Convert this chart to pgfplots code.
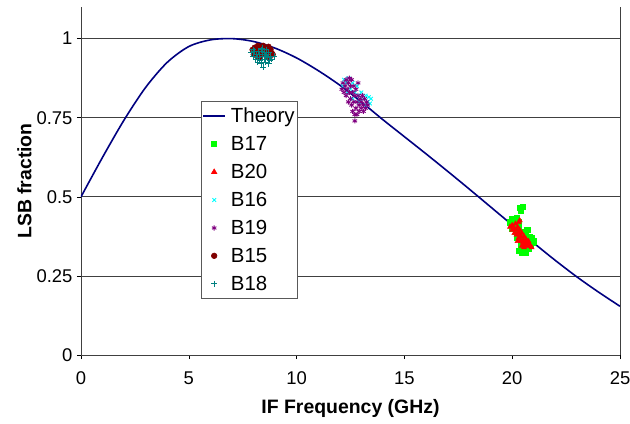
\documentclass[border=0pt]{standalone}
\usepackage{pgfplots}
\pgfplotsset{compat=1.18}
\usepackage{fontspec}
\setmainfont{Liberation Sans}
\usetikzlibrary{plotmarks}
\definecolor{navyc}{RGB}{0,0,128}
\definecolor{limec}{RGB}{0,255,0}
\definecolor{redc}{RGB}{255,0,0}
\definecolor{cyanc}{RGB}{0,255,255}
\definecolor{purplec}{RGB}{128,0,128}
\definecolor{maroonc}{RGB}{128,0,0}
\definecolor{tealc}{RGB}{0,128,128}
\pgfplotsset{
  markleg/.style={legend image code/.code={\draw[mark repeat=2,mark phase=2,##1] plot coordinates {(0bp,0bp) (11bp,0bp) (22bp,0bp)};}},
  lineleg/.style={legend image code/.code={\draw[##1] (0bp,0bp) -- (22bp,0bp);}},
}
\begin{document}
\begin{tikzpicture}
\begin{axis}[
  scale only axis,
  width=539bp, height=348bp,
  xmin=0, xmax=25, ymin=0, ymax=1.1,
  axis x line*=bottom, axis y line*=box,
  xtick={0,5,10,15,20,25},
  ytick={0,0.25,0.5,0.75,1},
  yticklabels={0,0.25,0.5,0.75,1},
  ytick pos=left, xtick pos=bottom,
  tick align=outside,
  major tick length=4bp,
  tick style={black, line width=0.6bp},
  axis line style={black!75, line width=0.8bp},
  ymajorgrids,
  grid style={black!75, line width=0.7bp},
  /pgf/number format/assume math mode=true,
  ticklabel style={font=\fontsize{18.5}{21}\selectfont},
  xticklabel style={yshift=-9bp},
  yticklabel style={xshift=-1bp},
  xlabel={\bfseries IF Frequency (GHz)},
  ylabel={\bfseries LSB fraction},
  xlabel style={at={(axis description cs:0.5,-0.155)}, anchor=center, font=\fontsize{19.5}{22}\selectfont},
  ylabel style={at={(axis description cs:-0.105,0.5)}, anchor=center, font=\fontsize{19.5}{22}\selectfont},
  legend style={at={(0.2226,0.730)}, anchor=north west, draw=black!65, fill=white,
    line width=0.8bp, font=\fontsize{20.5}{23}\selectfont,
    nodes={inner ysep=6.1bp, inner xsep=2bp}, row sep=0pt, inner xsep=1bp, inner ysep=0.5bp,
    /tikz/every odd column/.append style={column sep=3bp}},
  legend cell align=left,
]
\addplot[color=navyc, line width=1.6bp, smooth, no marks, lineleg] coordinates {
(0,0.5) (1,0.625) (2,0.743) (3,0.846) (4,0.925) (5,0.975) (6,0.996) (7,1.000)
(8,0.991) (9,0.970) (10,0.939) (11,0.899) (12,0.853) (13,0.800) (14,0.744) (15,0.690)
(16,0.636) (17,0.581) (18,0.525) (19,0.468) (20,0.411) (21,0.354) (22,0.299) (23,0.247)
(24,0.199) (25,0.154)};
\addlegendentry{Theory}
% B17
\addplot[only marks, markleg, mark=square*, mark size=2.6bp, color=limec, mark options={fill=limec}] coordinates {
(20.35,0.465) (20.5,0.47) (20.4,0.455) (19.9,0.42) (20.0,0.43) (20.1,0.425) (20.2,0.435) (20.3,0.42)
(20.0,0.40) (20.15,0.39) (20.3,0.40) (20.4,0.385) (20.5,0.39) (20.6,0.38) (20.7,0.395) (20.8,0.375)
(20.9,0.37) (20.95,0.355) (21.0,0.36) (20.85,0.345) (20.7,0.35) (20.6,0.36) (20.5,0.37) (20.3,0.33)
(20.45,0.325) (20.6,0.325) (20.75,0.335) (20.4,0.35) (20.2,0.37) (20.1,0.41)};
\addlegendentry{B17}
% B20
\addplot[only marks, markleg, mark=triangle*, mark size=3bp, color=redc, mark options={fill=redc}] coordinates {
(19.9,0.405) (20.0,0.41) (20.0,0.395) (20.1,0.40) (20.1,0.385) (20.15,0.415) (20.2,0.395) (20.2,0.38)
(20.25,0.405) (20.3,0.385) (20.3,0.37) (20.35,0.395) (20.4,0.375) (20.4,0.36) (20.45,0.385) (20.5,0.365)
(20.5,0.355) (20.55,0.375) (20.6,0.36) (20.6,0.35) (20.65,0.365) (20.7,0.355) (20.7,0.345) (20.75,0.36)
(20.8,0.35) (20.85,0.345) (20.9,0.34) (20.3,0.42) (20.25,0.36) (20.45,0.345) (20.55,0.34) (20.35,0.425)};
\addlegendentry{B20}
% B16
\addplot[only marks, markleg, mark=x, mark size=2.6bp, color=cyanc, mark options={line width=0.9bp}] coordinates {
(12.15,0.85) (12.2,0.87) (12.3,0.86) (12.35,0.83) (12.4,0.875) (12.5,0.84) (12.6,0.86) (12.7,0.83)
(12.8,0.85) (12.9,0.82) (13.0,0.83) (13.1,0.81) (13.2,0.82) (13.3,0.80) (13.35,0.815) (13.4,0.795)
(13.45,0.81) (12.6,0.81) (12.9,0.80) (13.2,0.79)};
\addlegendentry{B16}
% B19
\addplot[only marks, markleg, mark=asterisk, mark size=2.6bp, color=purplec, mark options={line width=0.9bp}] coordinates {
(12.1,0.84) (12.15,0.86) (12.2,0.83) (12.25,0.85) (12.3,0.87) (12.3,0.82) (12.35,0.84) (12.4,0.86)
(12.4,0.80) (12.45,0.83) (12.5,0.85) (12.5,0.81) (12.55,0.87) (12.55,0.79) (12.6,0.83) (12.6,0.77)
(12.65,0.85) (12.65,0.80) (12.7,0.82) (12.7,0.76) (12.7,0.74) (12.75,0.84) (12.75,0.78) (12.8,0.80)
(12.8,0.76) (12.85,0.82) (12.9,0.79) (12.9,0.77) (12.95,0.81) (13.0,0.80) (13.0,0.78) (13.05,0.82)
(13.1,0.79) (13.1,0.77) (13.15,0.81) (13.2,0.78) (13.25,0.80) (13.3,0.79) (12.85,0.86) (12.45,0.875)};
\addlegendentry{B19}
% B15
\addplot[only marks, markleg, mark=*, mark size=2.7bp, color=maroonc, mark options={fill=maroonc}] coordinates {
(7.95,0.965) (8.05,0.972) (8.1,0.96) (8.2,0.968) (8.25,0.955) (8.3,0.975) (8.35,0.962) (8.4,0.97)
(8.45,0.95) (8.5,0.965) (8.55,0.972) (8.6,0.958) (8.65,0.968) (8.7,0.975) (8.75,0.96) (8.8,0.966)
(8.85,0.955) (8.9,0.95) (8.0,0.95) (8.15,0.945) (8.3,0.94) (8.6,0.945) (8.75,0.94) (8.45,0.978) (8.2,0.978)};
\addlegendentry{B15}
% B18
\addplot[only marks, markleg, mark=+, mark size=3bp, color=tealc, mark options={line width=0.9bp}] coordinates {
(7.9,0.955) (8.0,0.945) (8.05,0.96) (8.1,0.935) (8.15,0.95) (8.2,0.94) (8.25,0.96) (8.3,0.93)
(8.3,0.95) (8.35,0.92) (8.4,0.945) (8.4,0.96) (8.45,0.91) (8.5,0.935) (8.5,0.955) (8.55,0.925)
(8.6,0.95) (8.65,0.94) (8.7,0.955) (8.75,0.93) (8.8,0.945) (8.85,0.935) (8.95,0.945) (8.4,0.97)
(8.6,0.965) (8.2,0.925) (8.35,0.965) (8.55,0.945) (8.7,0.92) (8.0,0.965)};
\addlegendentry{B18}
\end{axis}
\pgfresetboundingbox
\path (-81bp,-69bp) rectangle (549bp,355bp);
\end{tikzpicture}
\end{document}
